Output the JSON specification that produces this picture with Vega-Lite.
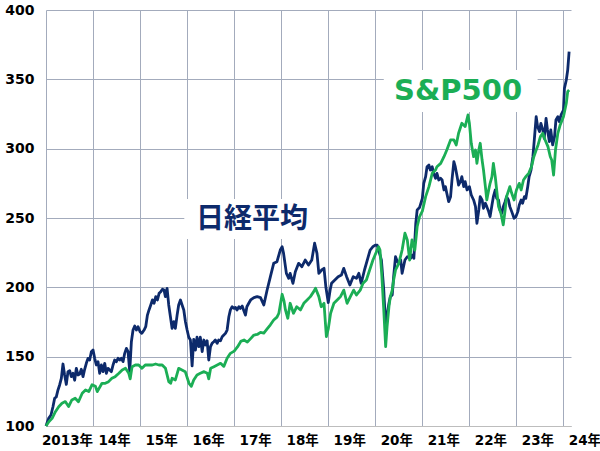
{
  "$schema": "https://vega.github.io/schema/vega-lite/v6.json",
  "width": 525,
  "height": 416,
  "autosize": {"type": "none"},
  "padding": {"left": 46, "top": 10, "right": 29, "bottom": 25},
  "background": "white",
  "config": {"view": {"stroke": null}},
  "datasets": {
    "nk": [
      {"t":2013.00,"v":100},{"t":2013.056,"v":105.5},{"t":2013.106,"v":107.9},{"t":2013.148,"v":113.9},{"t":2013.184,"v":120},{"t":2013.219,"v":121},{"t":2013.255,"v":126},{"t":2013.29,"v":129.6},{"t":2013.326,"v":134.4},{"t":2013.361,"v":144.7},{"t":2013.396,"v":136.8},{"t":2013.432,"v":130},{"t":2013.467,"v":139.2},{"t":2013.503,"v":139.9},{"t":2013.538,"v":135.6},{"t":2013.574,"v":138},{"t":2013.609,"v":133},{"t":2013.645,"v":141.6},{"t":2013.68,"v":136.8},{"t":2013.716,"v":137.5},{"t":2013.751,"v":140.9},{"t":2013.787,"v":135.6},{"t":2013.822,"v":140.9},{"t":2013.857,"v":145.2},{"t":2013.893,"v":148.8},{"t":2013.928,"v":147.6},{"t":2013.964,"v":153.6},{"t":2014.0,"v":154.8},
      {"t":2014.035,"v":148.8},{"t":2014.07,"v":144},{"t":2014.106,"v":146.4},{"t":2014.141,"v":138},{"t":2014.177,"v":144},{"t":2014.212,"v":139.2},{"t":2014.248,"v":145.2},{"t":2014.283,"v":138},{"t":2014.319,"v":141.6},{"t":2014.354,"v":140.4},{"t":2014.39,"v":139.2},{"t":2014.425,"v":144},{"t":2014.46,"v":147.6},{"t":2014.496,"v":146.4},{"t":2014.531,"v":148.8},{"t":2014.567,"v":147.6},{"t":2014.602,"v":148.8},{"t":2014.638,"v":146.4},{"t":2014.673,"v":152.4},{"t":2014.709,"v":156},{"t":2014.744,"v":153.6},{"t":2014.78,"v":139.2},{"t":2014.815,"v":160.8},{"t":2014.85,"v":169.2},{"t":2014.886,"v":172.1},{"t":2014.921,"v":169.2},{"t":2014.957,"v":171.6},{"t":2015.0,"v":168},
      {"t":2015.035,"v":166.8},{"t":2015.085,"v":169.2},{"t":2015.12,"v":171.6},{"t":2015.156,"v":180},{"t":2015.19,"v":183.7},{"t":2015.227,"v":187.3},{"t":2015.262,"v":190.9},{"t":2015.298,"v":188.5},{"t":2015.333,"v":193.3},{"t":2015.369,"v":190.9},{"t":2015.404,"v":195.7},{"t":2015.44,"v":196.9},{"t":2015.475,"v":198.6},{"t":2015.51,"v":198},{"t":2015.538,"v":193.3},{"t":2015.574,"v":199.3},{"t":2015.609,"v":187.3},{"t":2015.645,"v":178.8},{"t":2015.68,"v":170.4},{"t":2015.716,"v":175.2},{"t":2015.75,"v":170.4},{"t":2015.787,"v":180},{"t":2015.82,"v":187.3},{"t":2015.858,"v":190.9},{"t":2015.893,"v":187.3},{"t":2015.929,"v":183.7},{"t":2015.964,"v":175.2},{"t":2016.0,"v":169.2},
      {"t":2016.035,"v":164},{"t":2016.07,"v":162},{"t":2016.106,"v":143.3},{"t":2016.14,"v":162.5},{"t":2016.177,"v":154.8},{"t":2016.21,"v":164},{"t":2016.248,"v":157.2},{"t":2016.28,"v":164},{"t":2016.32,"v":153.6},{"t":2016.355,"v":162},{"t":2016.39,"v":158.4},{"t":2016.425,"v":161.5},{"t":2016.46,"v":147.6},{"t":2016.497,"v":157.2},{"t":2016.53,"v":159.6},{"t":2016.567,"v":160.8},{"t":2016.6,"v":162},{"t":2016.638,"v":159.6},{"t":2016.67,"v":162},{"t":2016.709,"v":161.5},{"t":2016.745,"v":164.4},{"t":2016.78,"v":165.6},{"t":2016.815,"v":166.8},{"t":2016.85,"v":169.2},{"t":2016.887,"v":178.8},{"t":2016.92,"v":183.7},{"t":2016.957,"v":186},{"t":2017.0,"v":184.8},
      {"t":2017.028,"v":185.5},{"t":2017.06,"v":183.7},{"t":2017.1,"v":186},{"t":2017.13,"v":184.8},{"t":2017.17,"v":186.5},{"t":2017.2,"v":183.7},{"t":2017.24,"v":180},{"t":2017.27,"v":186},{"t":2017.31,"v":188.5},{"t":2017.35,"v":190.9},{"t":2017.42,"v":192.6},{"t":2017.49,"v":193.3},{"t":2017.56,"v":192.6},{"t":2017.63,"v":187.3},{"t":2017.7,"v":198.1},{"t":2017.77,"v":207.7},{"t":2017.84,"v":217.3},{"t":2017.91,"v":218.5},{"t":2017.98,"v":226.9},
      {"t":2018.02,"v":229.3},{"t":2018.05,"v":224.5},{"t":2018.11,"v":210.1},{"t":2018.16,"v":206.5},{"t":2018.19,"v":210.1},{"t":2018.25,"v":202.9},{"t":2018.3,"v":211.3},{"t":2018.37,"v":217.3},{"t":2018.44,"v":214.9},{"t":2018.51,"v":219.7},{"t":2018.58,"v":216.1},{"t":2018.65,"v":219.7},{"t":2018.71,"v":231.8},{"t":2018.76,"v":224.5},{"t":2018.8,"v":210.1},{"t":2018.86,"v":212.5},{"t":2018.91,"v":213.7},{"t":2018.95,"v":200},
      {"t":2019.0,"v":189},{"t":2019.04,"v":198.1},{"t":2019.07,"v":202.9},{"t":2019.14,"v":205.3},{"t":2019.21,"v":207.7},{"t":2019.28,"v":208.9},{"t":2019.33,"v":213.7},{"t":2019.39,"v":207.7},{"t":2019.46,"v":201.7},{"t":2019.53,"v":207.7},{"t":2019.6,"v":206.5},{"t":2019.65,"v":210.1},{"t":2019.7,"v":202.9},{"t":2019.77,"v":212.5},{"t":2019.84,"v":220.9},{"t":2019.89,"v":226.9},{"t":2019.95,"v":229.3},
      {"t":2020.0,"v":230.5},{"t":2020.04,"v":230.5},{"t":2020.09,"v":224.5},{"t":2020.13,"v":219.7},{"t":2020.18,"v":198.1},{"t":2020.22,"v":172},{"t":2020.25,"v":180},{"t":2020.29,"v":188.5},{"t":2020.32,"v":193.3},{"t":2020.36,"v":194.5},{"t":2020.39,"v":207.7},{"t":2020.43,"v":222.1},{"t":2020.47,"v":218.5},{"t":2020.5,"v":217.3},{"t":2020.54,"v":219.7},{"t":2020.57,"v":210.1},{"t":2020.63,"v":219.7},{"t":2020.68,"v":222.1},{"t":2020.75,"v":220.9},{"t":2020.78,"v":223.3},{"t":2020.82,"v":220.9},{"t":2020.86,"v":246},{"t":2020.89,"v":255.8},{"t":2020.94,"v":257.5},
      {"t":2021.0,"v":264.2},{"t":2021.03,"v":275},{"t":2021.07,"v":279.8},{"t":2021.1,"v":287},{"t":2021.14,"v":288.2},{"t":2021.17,"v":284.6},{"t":2021.21,"v":287},{"t":2021.24,"v":282.2},{"t":2021.28,"v":278.6},{"t":2021.31,"v":282.2},{"t":2021.35,"v":277.4},{"t":2021.39,"v":278.6},{"t":2021.42,"v":277.4},{"t":2021.46,"v":270.2},{"t":2021.49,"v":272.6},{"t":2021.52,"v":267.8},{"t":2021.56,"v":261.8},{"t":2021.6,"v":265.4},{"t":2021.63,"v":277.4},{"t":2021.67,"v":290.6},{"t":2021.7,"v":287},{"t":2021.74,"v":279.8},{"t":2021.77,"v":273.8},{"t":2021.81,"v":276.2},{"t":2021.84,"v":279.8},{"t":2021.88,"v":272.6},{"t":2021.91,"v":276.2},{"t":2021.95,"v":270.2},
      {"t":2022.0,"v":272.6},{"t":2022.04,"v":266.6},{"t":2022.09,"v":263},{"t":2022.13,"v":258.2},{"t":2022.16,"v":246.2},{"t":2022.2,"v":255.8},{"t":2022.23,"v":265.4},{"t":2022.27,"v":263},{"t":2022.3,"v":257},{"t":2022.34,"v":260.6},{"t":2022.37,"v":258.2},{"t":2022.41,"v":254.6},{"t":2022.44,"v":251},{"t":2022.48,"v":259.4},{"t":2022.51,"v":265.4},{"t":2022.55,"v":270.2},{"t":2022.58,"v":264.2},{"t":2022.62,"v":263},{"t":2022.65,"v":255.8},{"t":2022.69,"v":253.4},{"t":2022.72,"v":258.2},{"t":2022.76,"v":261.8},{"t":2022.79,"v":265.4},{"t":2022.83,"v":263},{"t":2022.86,"v":258.2},{"t":2022.9,"v":254.6},{"t":2022.95,"v":249.8},{"t":2022.99,"v":251},
      {"t":2023.03,"v":254.6},{"t":2023.06,"v":259.4},{"t":2023.1,"v":263},{"t":2023.13,"v":260.6},{"t":2023.17,"v":265.4},{"t":2023.2,"v":264.2},{"t":2023.24,"v":272.6},{"t":2023.27,"v":279.8},{"t":2023.31,"v":284.6},{"t":2023.35,"v":294.2},{"t":2023.38,"v":306.3},{"t":2023.42,"v":323.1},{"t":2023.45,"v":315.9},{"t":2023.49,"v":312.3},{"t":2023.52,"v":318.3},{"t":2023.56,"v":313.5},{"t":2023.59,"v":307.5},{"t":2023.63,"v":321.9},{"t":2023.66,"v":313.5},{"t":2023.7,"v":305.1},{"t":2023.73,"v":313.5},{"t":2023.77,"v":302.7},{"t":2023.81,"v":308.7},{"t":2023.84,"v":320.7},{"t":2023.88,"v":323.1},{"t":2023.91,"v":319.5},{"t":2023.95,"v":324.3},
      {"t":2024.0,"v":327.9},{"t":2024.02,"v":343.5},{"t":2024.06,"v":349.5},{"t":2024.09,"v":356.7},{"t":2024.12,"v":370}
    ],
    "sp": [
      {"t":2013.0,"v":100},{"t":2013.06,"v":103.1},{"t":2013.13,"v":105.5},{"t":2013.2,"v":110.3},{"t":2013.27,"v":113.9},{"t":2013.34,"v":116.4},{"t":2013.41,"v":117.6},{"t":2013.48,"v":114},{"t":2013.55,"v":118.8},{"t":2013.62,"v":120},{"t":2013.69,"v":117.5},{"t":2013.77,"v":123.6},{"t":2013.84,"v":126},{"t":2013.91,"v":124.8},{"t":2013.98,"v":129.8},
      {"t":2014.05,"v":128.7},{"t":2014.09,"v":124.8},{"t":2014.19,"v":130.8},{"t":2014.26,"v":130.8},{"t":2014.33,"v":132},{"t":2014.4,"v":134.4},{"t":2014.47,"v":135.6},{"t":2014.55,"v":138},{"t":2014.62,"v":140.4},{"t":2014.69,"v":141.6},{"t":2014.76,"v":138},{"t":2014.79,"v":134},{"t":2014.83,"v":142.8},{"t":2014.9,"v":144},{"t":2014.97,"v":144},
      {"t":2015.04,"v":141.6},{"t":2015.11,"v":144},{"t":2015.18,"v":144},{"t":2015.26,"v":144},{"t":2015.33,"v":144.7},{"t":2015.4,"v":144},{"t":2015.47,"v":144},{"t":2015.54,"v":141.6},{"t":2015.61,"v":132},{"t":2015.65,"v":130.8},{"t":2015.68,"v":134.4},{"t":2015.75,"v":133.2},{"t":2015.82,"v":141.6},{"t":2015.89,"v":140.4},{"t":2015.96,"v":139.2},
      {"t":2016.04,"v":130.8},{"t":2016.09,"v":128.6},{"t":2016.14,"v":133.2},{"t":2016.21,"v":136.8},{"t":2016.28,"v":138},{"t":2016.36,"v":139.2},{"t":2016.43,"v":138},{"t":2016.46,"v":134},{"t":2016.5,"v":141.6},{"t":2016.57,"v":142.8},{"t":2016.64,"v":144},{"t":2016.71,"v":145.2},{"t":2016.78,"v":143},{"t":2016.85,"v":148.8},{"t":2016.92,"v":152.4},
      {"t":2017.0,"v":154},{"t":2017.07,"v":157},{"t":2017.14,"v":161},{"t":2017.21,"v":162},{"t":2017.28,"v":160.5},{"t":2017.35,"v":163},{"t":2017.42,"v":165.6},{"t":2017.49,"v":166},{"t":2017.56,"v":167.5},{"t":2017.63,"v":167},{"t":2017.7,"v":170},{"t":2017.77,"v":173},{"t":2017.84,"v":176.4},{"t":2017.91,"v":178.5},{"t":2017.95,"v":181.3},
      {"t":2018.02,"v":195},{"t":2018.06,"v":190},{"t":2018.09,"v":183.7},{"t":2018.14,"v":177.7},{"t":2018.19,"v":188.5},{"t":2018.26,"v":181.3},{"t":2018.33,"v":186},{"t":2018.41,"v":183.7},{"t":2018.48,"v":188.5},{"t":2018.55,"v":190.9},{"t":2018.62,"v":193.3},{"t":2018.69,"v":196.9},{"t":2018.73,"v":199.3},{"t":2018.8,"v":193.3},{"t":2018.85,"v":186},{"t":2018.91,"v":188.5},{"t":2018.96,"v":164.4},
      {"t":2019.0,"v":170},{"t":2019.05,"v":181.3},{"t":2019.12,"v":188.5},{"t":2019.19,"v":190.9},{"t":2019.26,"v":193.3},{"t":2019.33,"v":198},{"t":2019.4,"v":188.5},{"t":2019.47,"v":193.3},{"t":2019.54,"v":198},{"t":2019.6,"v":194.5},{"t":2019.68,"v":198},{"t":2019.74,"v":202.9},{"t":2019.81,"v":205.3},{"t":2019.88,"v":212.5},{"t":2019.95,"v":219.7},
      {"t":2020.04,"v":226.9},{"t":2020.07,"v":229.3},{"t":2020.1,"v":226.9},{"t":2020.14,"v":207.7},{"t":2020.18,"v":183.7},{"t":2020.22,"v":157.2},{"t":2020.25,"v":171.5},{"t":2020.29,"v":186},{"t":2020.32,"v":193.3},{"t":2020.36,"v":198},{"t":2020.39,"v":205.3},{"t":2020.43,"v":212.5},{"t":2020.5,"v":217.3},{"t":2020.57,"v":226.9},{"t":2020.63,"v":239},{"t":2020.68,"v":234.2},{"t":2020.73,"v":219.7},{"t":2020.78,"v":234.2},{"t":2020.84,"v":226.9},{"t":2020.89,"v":243.7},{"t":2020.94,"v":250.9},
      {"t":2021.0,"v":255},{"t":2021.07,"v":265.4},{"t":2021.14,"v":272.6},{"t":2021.21,"v":282.2},{"t":2021.28,"v":284.6},{"t":2021.31,"v":287},{"t":2021.39,"v":289.4},{"t":2021.46,"v":294.2},{"t":2021.52,"v":299},{"t":2021.6,"v":306.3},{"t":2021.67,"v":306.3},{"t":2021.72,"v":302.7},{"t":2021.77,"v":311.1},{"t":2021.84,"v":318.3},{"t":2021.91,"v":315.9},{"t":2021.97,"v":324.3},
      {"t":2022.0,"v":318.3},{"t":2022.04,"v":303.9},{"t":2022.09,"v":294.2},{"t":2022.13,"v":299},{"t":2022.16,"v":289.4},{"t":2022.2,"v":299},{"t":2022.23,"v":303.9},{"t":2022.27,"v":291.8},{"t":2022.3,"v":284.6},{"t":2022.34,"v":272.6},{"t":2022.37,"v":263},{"t":2022.41,"v":270.2},{"t":2022.44,"v":275},{"t":2022.48,"v":279.8},{"t":2022.51,"v":289.4},{"t":2022.55,"v":279.8},{"t":2022.58,"v":270.2},{"t":2022.62,"v":258.2},{"t":2022.67,"v":253.4},{"t":2022.72,"v":245},{"t":2022.76,"v":255.8},{"t":2022.79,"v":265.4},{"t":2022.86,"v":272.6},{"t":2022.9,"v":267.8},{"t":2022.95,"v":263},
      {"t":2023.0,"v":270.2},{"t":2023.06,"v":275},{"t":2023.1,"v":270.2},{"t":2023.15,"v":277.4},{"t":2023.2,"v":279.8},{"t":2023.26,"v":282.2},{"t":2023.32,"v":287},{"t":2023.37,"v":294.2},{"t":2023.42,"v":299},{"t":2023.46,"v":302.7},{"t":2023.51,"v":308.7},{"t":2023.56,"v":311.1},{"t":2023.61,"v":306.3},{"t":2023.67,"v":301.5},{"t":2023.72,"v":294.2},{"t":2023.75,"v":291.8},{"t":2023.79,"v":281},{"t":2023.83,"v":299},{"t":2023.88,"v":311.1},{"t":2023.93,"v":317.1},
      {"t":2024.0,"v":323.1},{"t":2024.03,"v":327.9},{"t":2024.06,"v":332.7},{"t":2024.09,"v":341.1},{"t":2024.12,"v":342.3}
    ],
    "boxes": [
      {"t": 2015.94, "t2": 2018.99, "v": 234.9, "v2": 263.7},
      {"t": 2020.18, "t2": 2023.45, "v": 326.4, "v2": 356.7}
    ]
  },
  "encoding": {
    "x": {"field": "t", "type": "quantitative", "scale": {"domain": [2013, 2024.16], "nice": false, "zero": false},
      "axis": {"values": [2013,2014,2015,2016,2017,2018,2019,2020,2021,2022,2023,2024], "grid": true, "gridColor": "#a3abbc", "gridWidth": 1, "domain": true, "domainColor": "#bdbdbd", "domainWidth": 1, "ticks": false,
        "labelExpr": "datum.value == 2013 ? '2013年' : (datum.value - 2000) + '年'", "labelOffset": 21, "labelFont": "DejaVu Sans, Noto Sans CJK JP", "labelFontSize": 13.5, "labelFontWeight": "bold", "labelColor": "#000000", "labelPadding": 7, "labelOverlap": false, "labelFlush": false, "labelBound": false, "title": null}},
    "y": {"field": "v", "type": "quantitative", "scale": {"domain": [100, 400], "nice": false, "zero": false},
      "axis": {"values": [100,150,200,250,300,350,400], "grid": true, "gridColor": "#a3abbc", "gridWidth": 1, "domain": false, "ticks": false, "labelFont": "DejaVu Sans", "labelFontSize": 14, "labelFontWeight": "bold", "labelColor": "#000000", "labelPadding": 12, "labelOverlap": false, "labelFlush": false, "labelBound": false, "title": null}}
  },
  "layer": [
    {
      "data": {"name": "boxes"},
      "mark": {"type": "rect", "fill": "white", "strokeWidth": 0},
      "encoding": {"x2": {"field": "t2"}, "y2": {"field": "v2"}}
    },
    {
      "data": {"name": "nk"},
      "mark": {"type": "line", "color": "#0d2a6b", "strokeWidth": 2.8, "strokeJoin": "round"},
      "encoding": {}
    },
    {
      "data": {"name": "sp"},
      "mark": {"type": "line", "color": "#1bae55", "strokeWidth": 2.8, "strokeJoin": "round"},
      "encoding": {}
    },
    {
      "data": {"values": [{"t": 2017.38, "v": 248.6, "label": "日経平均"}]},
      "mark": {"type": "text", "font": "Noto Sans CJK JP", "fontSize": 28, "fontWeight": "bold", "color": "#0d2a6b", "align": "center", "baseline": "middle"},
      "encoding": {"text": {"field": "label"}}
    },
    {
      "data": {"values": [{"t": 2021.76, "v": 341.6, "label": "S&P500"}]},
      "mark": {"type": "text", "font": "DejaVu Sans", "fontSize": 29, "fontWeight": "bold", "color": "#1bae55", "align": "center", "baseline": "middle"},
      "encoding": {"text": {"field": "label"}}
    }
  ]
}
